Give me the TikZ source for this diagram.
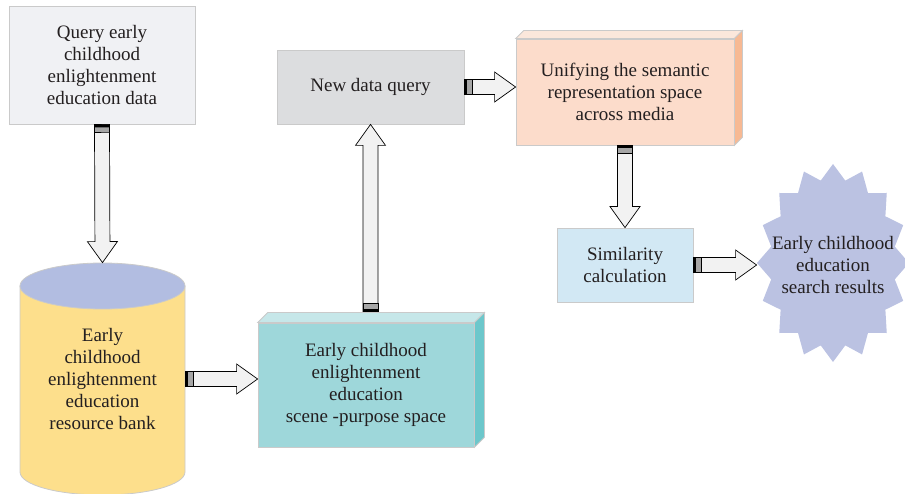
\documentclass[tikz,border=0pt]{standalone}
\usepackage{fontspec}
\setmainfont{Liberation Serif}
\usetikzlibrary{calc}

\definecolor{txtgray}{HTML}{231F20}
\definecolor{boxline}{HTML}{CACACA}
\definecolor{querybg}{HTML}{F0F1F4}
\definecolor{newbg}{HTML}{DCDDDF}
\definecolor{unifyfront}{HTML}{FCDCCB}
\definecolor{unifytop}{HTML}{FBE7DB}
\definecolor{unifyside}{HTML}{F7B993}
\definecolor{tealfront}{HTML}{9ED7DA}
\definecolor{tealtop}{HTML}{C6E7E9}
\definecolor{tealside}{HTML}{6CC7CB}
\definecolor{simbg}{HTML}{D2E8F4}
\definecolor{burstbg}{HTML}{BBC2E2}
\definecolor{bankbody}{HTML}{FDDF8C}
\definecolor{banktop}{HTML}{B2BDE1}
\definecolor{arrowfill}{HTML}{F2F2F2}

\tikzset{
  box/.style={draw=boxline, line width=0.8pt, align=center, text=txtgray,
    font=\fontsize{19}{22}\selectfont, inner sep=0pt},
  face/.style={draw=boxline, line width=0.8pt},
  arrowbody/.style={draw=black, line width=0.7pt, fill=arrowfill}
}

% block arrow with striped tail, from #1 to #2
\newcommand{\flowarrow}[2]{%
  \coordinate (hb) at ($(#2)!21pt!(#1)$);
  \coordinate (tb) at ($(#1)!8pt!(#2)$);
  \coordinate (tm) at ($(#1)!3pt!(#2)$);
  \filldraw[arrowbody] ($(#1)!7.5pt!90:(#2)$) -- ($(hb)!7.5pt!90:(#2)$)
    -- ($(hb)!15pt!90:(#2)$) -- (#2) -- ($(hb)!15pt!-90:(#2)$)
    -- ($(hb)!7.5pt!-90:(#2)$) -- ($(#1)!7.5pt!-90:(#2)$) -- cycle;
  \filldraw[draw=black, fill=gray!70, line width=0.7pt] ($(#1)!7.5pt!90:(#2)$) -- ($(tb)!7.5pt!90:(#2)$)
    -- ($(tb)!7.5pt!-90:(#2)$) -- ($(#1)!7.5pt!-90:(#2)$) -- cycle;
  \fill[black] ($(#1)!7.5pt!90:(#2)$) -- ($(tm)!7.5pt!90:(#2)$)
    -- ($(tm)!7.5pt!-90:(#2)$) -- ($(#1)!7.5pt!-90:(#2)$) -- cycle;
}
% top and side faces of a box node
\newcommand{\cuboid}[4]{%
  \filldraw[face, fill=#3] (#1.north west) -- ++(#2,-#2) -- ([shift={(#2,-#2)}]#1.north east)
    -- (#1.north east) -- cycle;
  \filldraw[face, fill=#4] (#1.north east) -- ++(#2,-#2) -- ([shift={(#2,-#2)}]#1.south east)
    -- (#1.south east) -- cycle;
}

\begin{document}
\begin{tikzpicture}[x=1pt, y=-1pt]
  \useasboundingbox (0,0) rectangle (905,494);

  \node[box, fill=querybg, minimum width=186pt, minimum height=118pt] (query) at (102,65)
    {Query early\\childhood\\enlightenment\\education data};
  \node[box, fill=newbg, minimum width=187pt, minimum height=74pt] (newq) at (370.5,87)
    {New data query};
  \node[box, fill=unifyfront, minimum width=218pt, minimum height=106pt] (unify) at (625,92)
    {Unifying the semantic\\representation space\\across media};
  \cuboid{unify}{8}{unifytop}{unifyside}
  \node[box, fill=tealfront, minimum width=216pt, minimum height=124pt] (teal) at (366,385)
    {Early childhood\\enlightenment\\education\\scene -purpose space};
  \cuboid{teal}{10}{tealtop}{tealside}
  \node[box, fill=simbg, minimum width=136pt, minimum height=74pt] (sim) at (625,265)
    {Similarity\\calculation};

  \fill[burstbg] plot[variable=\k, samples at={0,...,31}]
    ({833+(mod(\k,2)==0 ? 76 : 63)*cos(90+11.25*\k)}, {263-(mod(\k,2)==0 ? 99 : 84)*sin(90+11.25*\k)}) -- cycle;
  \node[box, draw=none, minimum width=152pt, minimum height=198pt] (burst) at (833,265)
    {Early childhood\\education\\search results};

  \filldraw[face, fill=bankbody] (20,286) -- (20,472) arc[start angle=180, end angle=360,
    x radius=82.5pt, y radius=23pt] -- (185,286) -- cycle;
  \filldraw[face, fill=banktop] (102.5,286) ellipse[x radius=82.5pt, y radius=23pt];
  \node[box, draw=none, minimum width=165pt, minimum height=232pt] (bank) at (102.5,379)
    {Early\\childhood\\enlightenment\\education\\resource bank};

  \coordinate (bankout) at (bank.east -| teal.west);
  \path (teal.north) ++(0,-11) coordinate (tt);
  \coordinate (tealup) at (newq.south |- tt);
  \coordinate (unifyin) at (newq.east -| unify.west);
  \coordinate (burstin) at (sim.east -| burst.west);

  \flowarrow{query.south}{bank.north}
  \flowarrow{bank.east}{bankout}
  \flowarrow{tealup}{newq.south}
  \flowarrow{newq.east}{unifyin}
  \flowarrow{unify.south}{sim.north}
  \flowarrow{sim.east}{burstin}
\end{tikzpicture}
\end{document}
